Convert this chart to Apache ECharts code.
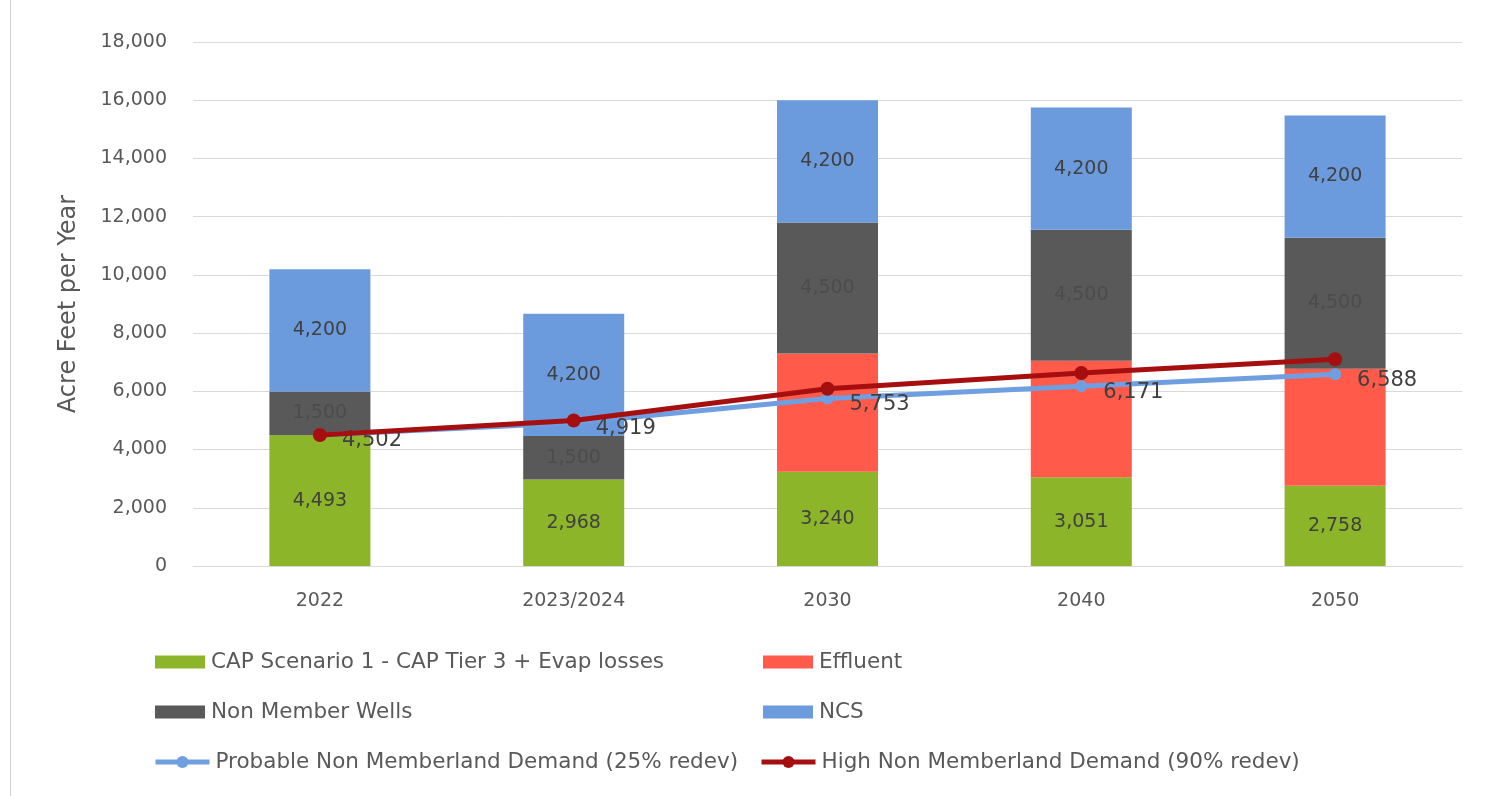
<!DOCTYPE html>
<html>
<head>
<meta charset="utf-8">
<script src="https://cdn.jsdelivr.net/npm/echarts@6/dist/echarts.min.js"></script>
<style>
  html, body { margin: 0; padding: 0; background: #fff; }
  #chart { width: 1486px; height: 796px; }
</style>
</head>
<body>
<div id="chart"></div>
<script>
// Water supply by source (stacked) vs. non-memberland demand (lines)
const categories = ['2022', '2023/2024', '2030', '2040', '2050'];
const capValues = [4493, 2968, 3240, 3051, 2758];
const effluentValues = [null, null, 4060, 4000, 4020];
const wellsValues = [1500, 1500, 4500, 4500, 4500];
const ncsValues = [4200, 4200, 4200, 4200, 4200];
const probableDemand = [4502, 4919, 5753, 6171, 6588];
const highDemand = [4502, 5000, 6090, 6630, 7100];
const yTicks = { min: 0, max: 18000, interval: 2000 };

const names = {
  cap: 'CAP Scenario 1 - CAP Tier 3 + Evap losses',
  eff: 'Effluent',
  wells: 'Non Member Wells',
  ncs: 'NCS',
  prob: 'Probable Non Memberland Demand (25% redev)',
  high: 'High Non Memberland Demand (90% redev)'
};

const FONT = '"DejaVu Sans", "Open Sans", sans-serif';
const TXT = '#595959';
const fmt = v => Number(v).toLocaleString('en-US');

const segLabel = {
  show: true,
  position: 'inside',
  fontFamily: FONT,
  fontSize: 19,
  color: '#404040',
  formatter: p => fmt(p.value)
};

function legendAt(name, left, top, opts) {
  return Object.assign({
    data: [{ name: name, icon: 'rect' }],
    left: left,
    top: top,
    itemWidth: 50,
    itemHeight: 13,
    itemGap: 0,
    textStyle: { fontFamily: FONT, fontSize: 21.5, color: TXT, padding: [0, 0, 0, 1] },
    selectedMode: false
  }, opts || {});
}

function lineLegendAt(name, left, top, color) {
  return legendAt(name, left, top, {
    data: [name],
    itemWidth: 54,
    itemHeight: 15,
    lineStyle: { width: 5, color: color },
    itemStyle: { color: color }
  });
}

const chart = echarts.init(document.getElementById('chart'), null, { renderer: 'canvas' });

chart.setOption({
  animation: false,
  backgroundColor: '#ffffff',
  grid: { left: 193, right: 24, top: 42, bottom: 230 },
  legend: [
    legendAt(names.cap, 150, 646),
    legendAt(names.eff, 758, 646),
    legendAt(names.wells, 150, 696),
    legendAt(names.ncs, 758, 696),
    lineLegendAt(names.prob, 148, 746, '#6f9fe0'),
    lineLegendAt(names.high, 754, 746, '#a50f0f')
  ],
  xAxis: {
    type: 'category',
    data: categories,
    axisLine: { lineStyle: { color: '#d9d9d9', width: 1 } },
    axisTick: { show: false },
    axisLabel: { fontFamily: FONT, fontSize: 19, color: TXT, margin: 26 }
  },
  yAxis: {
    type: 'value',
    min: yTicks.min,
    max: yTicks.max,
    interval: yTicks.interval,
    name: 'Acre Feet per Year',
    nameLocation: 'middle',
    nameGap: 112,
    nameRotate: 90,
    nameTextStyle: { fontFamily: FONT, fontSize: 24, color: TXT },
    axisLine: { show: false },
    axisTick: { show: false },
    axisLabel: { fontFamily: FONT, fontSize: 19, color: TXT, margin: 26, formatter: v => fmt(v) },
    splitLine: { lineStyle: { color: '#d9d9d9', width: 1 } }
  },
  graphic: [
    { type: 'line', shape: { x1: 10.5, y1: 0, x2: 10.5, y2: 796 }, style: { stroke: '#d0d0d0', lineWidth: 1 } }
  ],
  series: [
    { name: names.cap, type: 'bar', stack: 'supply', barWidth: 101, data: capValues,
      itemStyle: { color: '#8cb52a' }, label: segLabel },
    { name: names.eff, type: 'bar', stack: 'supply', barWidth: 101, data: effluentValues,
      itemStyle: { color: '#ff5a4a' }, label: { show: false } },
    { name: names.wells, type: 'bar', stack: 'supply', barWidth: 101, data: wellsValues,
      itemStyle: { color: '#595959' }, label: Object.assign({}, segLabel, { color: '#4c4c4c' }) },
    { name: names.ncs, type: 'bar', stack: 'supply', barWidth: 101, data: ncsValues,
      itemStyle: { color: '#6b9bdd' }, label: segLabel },
    { name: names.prob, type: 'line', data: probableDemand, z: 5,
      symbol: 'circle', symbolSize: 12,
      lineStyle: { color: '#6f9fe0', width: 5 },
      itemStyle: { color: '#6f9fe0' },
      label: { show: true, position: 'right', distance: 16, offset: [0, 6],
        fontFamily: FONT, fontSize: 21, color: '#404040', formatter: p => fmt(p.value) } },
    { name: names.high, type: 'line', data: highDemand, z: 6,
      symbol: 'circle', symbolSize: 14,
      lineStyle: { color: '#a50f0f', width: 5 },
      itemStyle: { color: '#a50f0f' },
      label: { show: false } }
  ]
});
</script>
</body>
</html>
